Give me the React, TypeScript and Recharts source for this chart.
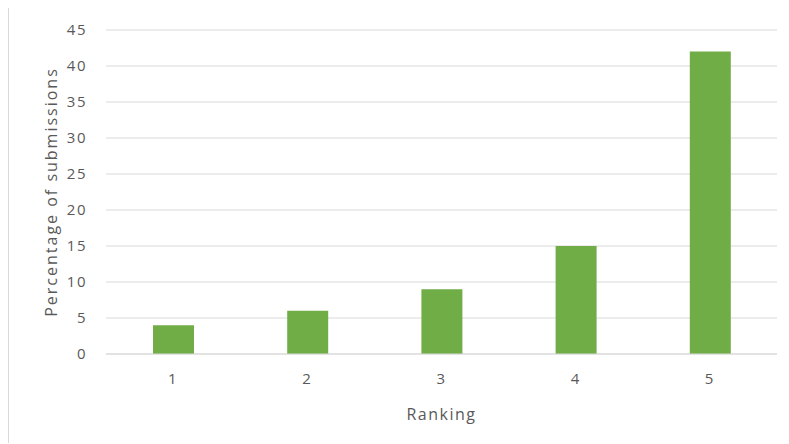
import React from 'react';
import { BarChart, Bar, XAxis, YAxis, CartesianGrid } from 'recharts';

const rankings = ['1', '2', '3', '4', '5'];
const percentages = [4, 6, 9, 15, 42];
const yTicks = [0, 5, 10, 15, 20, 25, 30, 35, 40, 45];

const data = rankings.map((r, i) => ({ ranking: r, value: percentages[i] }));

const FONT = '"Open Sans", sans-serif';
const TEXT = '#595959';

export default function App() {
  return (
    <div style={{ position: 'relative', width: 781, height: 436, marginTop: -1, borderLeft: '1px solid #d9d9d9', borderTop: '1px solid #d9d9d9', boxSizing: 'border-box', background: '#fff' }}>
      <BarChart width={780} height={436} data={data} margin={{ top: 22, right: 12, left: 0, bottom: 0 }} style={{ fontFamily: FONT }}>
        <CartesianGrid vertical={false} stroke="#d9d9d9" />
        <XAxis
          dataKey="ranking"
          height={90}
          tickSize={0}
          tickMargin={19}
          stroke="#d9d9d9"
          tick={{ fill: TEXT, fontSize: 15, fontFamily: FONT, style: { letterSpacing: 1.5 } }}
          label={{ value: 'Ranking', position: 'insideBottom', offset: 24, fill: TEXT, fontSize: 16, fontFamily: FONT, style: { letterSpacing: 1.5 } }}
        />
        <YAxis
          width={97}
          domain={[0, 45]}
          ticks={yTicks}
          axisLine={false}
          tickLine={false}
          tickSize={0}
          tickMargin={19}
          tick={{ fill: TEXT, fontSize: 15, fontFamily: FONT, style: { letterSpacing: 1.5 } }}
          label={{ value: 'Percentage of submissions', angle: -90, position: 'insideLeft', offset: 42, fill: TEXT, fontSize: 16, fontFamily: FONT, style: { textAnchor: 'middle', letterSpacing: 2 } }}
        />
        <Bar dataKey="value" fill="#70ad47" barSize={41} isAnimationActive={false} />
      </BarChart>
    </div>
  );
}
